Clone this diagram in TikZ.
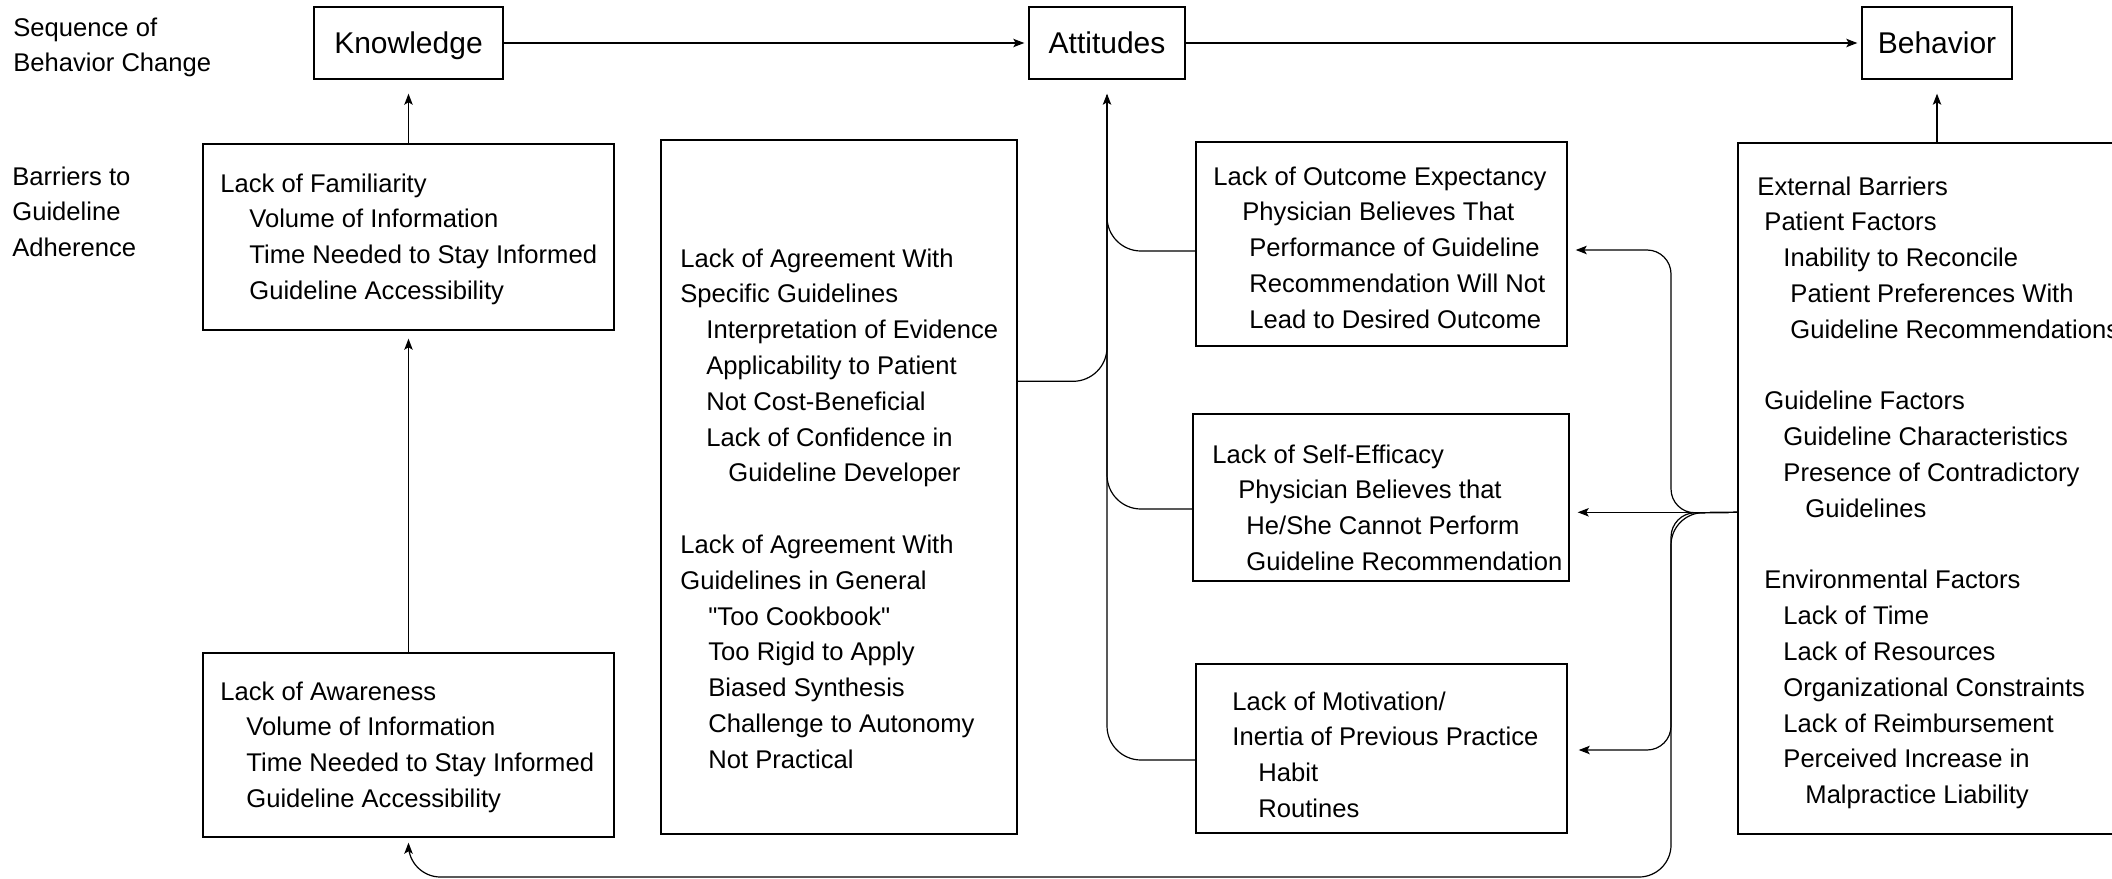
\documentclass[tikz,border=0pt]{standalone}
\usepackage{fontspec}
\setmainfont{Liberation Sans}[Ligatures=TeXOff]
\usetikzlibrary{arrows.meta}
\newcommand\bodyfont{\fontsize{12.8pt}{17.9pt}\selectfont}
\newcommand\lns[1]{\begin{tabular}[t]{@{}l@{}}#1\end{tabular}}
\newcommand\ind[1]{\hspace*{#1pt}}
\tikzset{
  bx/.style={draw, line width=0.7pt, inner sep=0pt},
  ttl/.style={bx, font=\fontsize{15pt}{18pt}\selectfont, minimum height=36pt, text height=10.8pt, text depth=0pt},
  txt/.style={anchor=base west, inner sep=0pt, font=\bodyfont},
  lnk/.style={line width=0.6pt},
  arr/.style={lnk, -{Stealth[length=5.5pt,width=4.2pt,inset=1.2pt]}},
}
\begin{document}
\begin{tikzpicture}[x=0.5pt,y=-0.5pt]
\useasboundingbox (0,0) rectangle (2112,878);
\clip (0,0) rectangle (2112,878);
% top row
\node[ttl, minimum width=94.5pt] (know) at (408.5,43) {Knowledge};
\node[ttl, minimum width=78pt] (att) at (1107,43) {Attitudes};
\node[ttl, minimum width=75pt] (beh) at (1937,43) {Behavior};
% side labels
\node[txt] (seqlbl) at (13,36) {\lns{Sequence of\\Behavior Change}};
\node[txt] (barlbl) at (12,185) {\lns{Barriers to\\Guideline\\Adherence}};
% boxes
\node[bx, minimum width=205.5pt, minimum height=93pt] (fam) at (408.5,237) {};
\node[bx, minimum width=205.5pt, minimum height=92pt] (awa) at (408.5,745) {};
\node[bx, minimum width=178pt, minimum height=347pt] (mid) at (839,487) {};
\node[bx, minimum width=185.5pt, minimum height=102pt] (out) at (1381.5,244) {};
\node[bx, minimum width=188pt, minimum height=83.5pt] (eff) at (1381,497.5) {};
\node[bx, minimum width=185.5pt, minimum height=84.5pt] (mot) at (1381.5,748.5) {};
\node[bx, minimum width=201pt, minimum height=345.5pt] (ext) at (1939,488.5) {};
% texts
\node[txt] (famtxt) at (220,192) {\lns{Lack of Familiarity\\
 \ind{14.5}Volume of Information\\
 \ind{14.5}Time Needed to Stay Informed\\
 \ind{14.5}Guideline Accessibility}};
\node[txt] (awatxt) at (220,700) {\lns{Lack of Awareness\\
 \ind{13}Volume of Information\\
 \ind{13}Time Needed to Stay Informed\\
 \ind{13}Guideline Accessibility}};
\node[txt] (midtxt) at (680,267) {\lns{Lack of Agreement With\\
 Specific Guidelines\\
 \ind{13}Interpretation of Evidence\\
 \ind{13}Applicability to Patient\\
 \ind{13}Not Cost-Beneficial\\
 \ind{13}Lack of Confidence in\\
 \ind{24}Guideline Developer\\
 \\
 Lack of Agreement With\\
 Guidelines in General\\
 \ind{14}"Too Cookbook"\\
 \ind{14}Too Rigid to Apply\\
 \ind{14}Biased Synthesis\\
 \ind{14}Challenge to Autonomy\\
 \ind{14}Not Practical}};
\node[txt] (outtxt) at (1213,185) {\lns{Lack of Outcome Expectancy\\
 \ind{14.5}Physician Believes That\\
 \ind{18}Performance of Guideline\\
 \ind{18}Recommendation Will Not\\
 \ind{18}Lead to Desired Outcome}};
\node[txt] (efftxt) at (1212,463) {\lns{Lack of Self-Efficacy\\
 \ind{13}Physician Believes that\\
 \ind{17}He/She Cannot Perform\\
 \ind{17}Guideline Recommendation}};
\node[txt] (mottxt) at (1232,710) {\lns{Lack of Motivation/\\
 Inertia of Previous Practice\\
 \ind{13}Habit\\
 \ind{13}Routines}};
\node[txt] (exttxt) at (1757,195) {\lns{External Barriers\\
 \ind{3.5}Patient Factors\\
 \ind{13}Inability to Reconcile\\
 \ind{16.5}Patient Preferences With\\
 \ind{16.5}Guideline Recommendations\\
 \\
 \ind{3.5}Guideline Factors\\
 \ind{13}Guideline Characteristics\\
 \ind{13}Presence of Contradictory\\
 \ind{24}Guidelines\\
 \\
 \ind{3.5}Environmental Factors\\
 \ind{13}Lack of Time\\
 \ind{13}Lack of Resources\\
 \ind{13}Organizational Constraints\\
 \ind{13}Lack of Reimbursement\\
 \ind{13}Perceived Increase in\\
 \ind{24}Malpractice Liability}};
% sequence arrows
\draw[arr, shorten >=2pt] (know) -- (att);
\draw[arr, shorten >=2pt] (att) -- (beh);
\draw[arr, shorten >=7pt] (fam) -- (know);
\draw[arr, shorten >=4pt] (awa) -- (fam);
\draw[arr, shorten >=7pt] (beh.south |- ext.north) -- (beh.south);
% attitudes trunk and branches
\coordinate (motL) at ([yshift=-5.75pt]mot.west);
\coordinate (effL) at ([yshift=-5.75pt]eff.west);
\coordinate (outL) at ([yshift=-3.5pt]out.west);
\coordinate (midR) at ([yshift=-121pt]mid.north east);
\draw[arr, rounded corners=17pt, shorten >=7pt] (motL) -| (att.south);
\draw[lnk, rounded corners=17pt, shorten >=8pt] (effL) -| (att.south);
\draw[lnk, rounded corners=17pt, shorten >=8pt] (outL) -| (att.south);
\draw[lnk, rounded corners=17pt, shorten >=8pt] (midR) -| (att.south);
% external barriers bracket
\coordinate (hubR) at ([yshift=-185pt]ext.north west);
\coordinate (vx) at (1671,513);
\coordinate (bot) at (1671,877);
\draw[arr, shorten >=4pt] (hubR) -- (hubR -| eff.east);
\draw[arr, shorten >=4pt, rounded corners=12pt] (hubR) -- (vx) |- ([yshift=-3pt]out.east);
\draw[arr, shorten >=5.5pt, rounded corners=12pt] (hubR) -- (vx) |- ([yshift=-0.75pt]mot.east);
\draw[arr, shorten >=2.5pt, rounded corners=16pt] (hubR) -- (vx) -- (bot) -| (awa.south);
\end{tikzpicture}
\end{document}
